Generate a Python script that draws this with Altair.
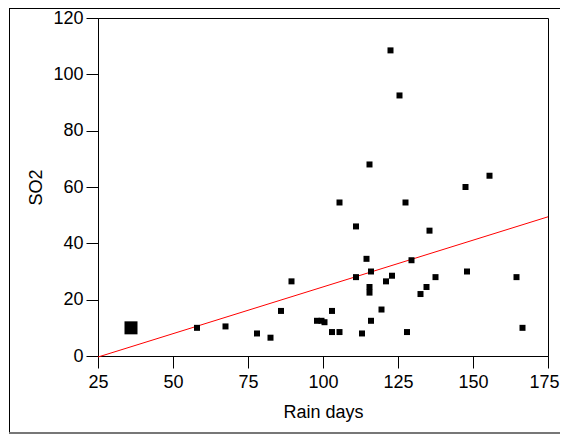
import altair as alt
import pandas as pd

# Data
rain_days = [58, 67.5, 78, 82.5, 86, 89.5, 98, 99.5, 100.5, 103, 103, 105.5, 105.5,
             111, 111, 113, 114.5, 115.5, 115.5, 115.5, 116, 116, 119.5, 121, 122.5,
             123, 125.5, 127.5, 128, 129.5, 132.5, 134.5, 135.5, 137.5, 147.5, 148,
             155.5, 164.5, 166.5]
so2 = [10, 10.5, 8, 6.5, 16, 26.5, 12.5, 12.5, 12, 16, 8.5, 8.5, 54.5,
       46, 28, 8, 34.5, 24.5, 22.5, 68, 30, 12.5, 16.5, 26.5, 108.5,
       28.5, 92.5, 54.5, 8.5, 34, 22, 24.5, 44.5, 28, 60, 30,
       64, 28, 10]
highlight_x = [36]
highlight_y = [10]

x_ticks = [25, 50, 75, 100, 125, 150, 175]
y_ticks = [0, 20, 40, 60, 80, 100, 120]

df = pd.DataFrame({"Rain days": rain_days, "SO2": so2})
df_hi = pd.DataFrame({"Rain days": highlight_x, "SO2": highlight_y})
df_all = pd.concat([df_hi, df], ignore_index=True)
one = pd.DataFrame({"a": [0]})

FONT = "Liberation Sans"
FS = 18

xs = alt.Scale(domain=[25, 175], nice=False, zero=False)
ys = alt.Scale(domain=[0, 120], nice=False)

x_axis = alt.Axis(values=x_ticks, title="Rain days", grid=False, tickSize=12,
                  labelPadding=5, titlePadding=12, domainColor="black", tickColor="black",
                  labelFlush=False, labelFont=FONT, titleFont=FONT, labelFontSize=FS,
                  titleFontSize=FS, labelColor="black", titleColor="black",
                  titleFontWeight="normal",
                  labelOffset={"condition": {"test": "datum.value >= 175", "value": -4},
                               "value": 0})
y_axis = alt.Axis(values=y_ticks, title="SO2", grid=False, tickSize=12,
                  labelPadding=3, titlePadding=7, domainColor="black", tickColor="black",
                  labelFlush=False, labelFont=FONT, titleFont=FONT, labelFontSize=FS,
                  titleFontSize=FS, labelColor="black", titleColor="black",
                  titleFontWeight="normal")

pts = alt.Chart(df).mark_square(size=36, color="black", opacity=1).encode(
    x=alt.X("Rain days:Q", scale=xs, axis=x_axis),
    y=alt.Y("SO2:Q", scale=ys, axis=y_axis),
)

big = alt.Chart(df_hi).mark_square(size=169, color="black", opacity=1).encode(
    x=alt.X("Rain days:Q", scale=xs),
    y=alt.Y("SO2:Q", scale=ys),
)

reg = alt.Chart(df_all).transform_regression(
    "Rain days", "SO2", extent=[25, 175]
).mark_line(color="red", strokeWidth=1).encode(
    x=alt.X("Rain days:Q", scale=xs),
    y=alt.Y("SO2:Q", scale=ys),
)

left_border = alt.Chart(one).mark_rule(color="black", strokeWidth=1).encode(
    x=alt.value(-88.5), y=alt.value(-10), y2=alt.value(416))
top_border = alt.Chart(one).mark_rule(color="black", strokeWidth=1).encode(
    x=alt.value(-89), x2=alt.value(462), y=alt.value(-9.5))
bottom_border = alt.Chart(one).mark_rule(color="#777777", strokeWidth=2).encode(
    x=alt.value(-89), x2=alt.value(462), y=alt.value(415))

chart = alt.layer(reg, pts, big, left_border, top_border, bottom_border).properties(
    width=450, height=338,
    autosize=alt.AutoSizeParams(type="none"),
    padding={"left": 90, "top": 10, "right": 12, "bottom": 80},
    background="white",
).configure_view(
    stroke="black", strokeWidth=1
)

chart.save("out.html", embed_options={"renderer": "svg", "actions": False})
